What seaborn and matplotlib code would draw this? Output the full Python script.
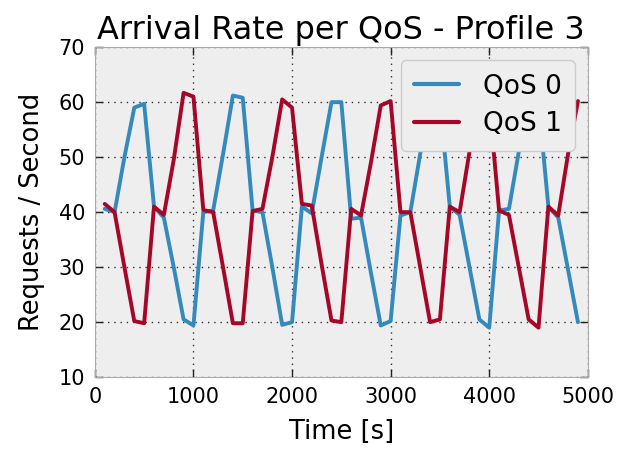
import matplotlib
matplotlib.use('Agg')
import matplotlib.pyplot as plt
import pandas as pd
import seaborn as sns

# Time axis (s) and arrival rates
time_s = list(range(100, 5000, 100))

qos0 = [40.6, 40.0, 50.0, 59.0, 59.7, 41.0, 39.0, 30.0, 20.5, 19.4,
        40.0, 40.3, 50.5, 61.2, 60.8, 40.3, 40.0, 30.0, 19.5, 20.0,
        41.0, 39.8, 50.0, 60.0, 60.0, 38.8, 39.0, 29.0, 19.4, 20.2,
        39.4, 40.0, 50.6, 60.0, 60.0, 41.0, 39.5, 30.0, 20.5, 19.0,
        40.3, 40.6, 51.0, 60.0, 60.0, 41.0, 39.0, 29.5, 20.0]

qos1 = [41.5, 40.0, 30.0, 20.2, 19.8, 41.0, 39.5, 49.5, 61.7, 61.0,
        40.4, 40.0, 30.0, 19.8, 19.8, 40.2, 40.6, 50.0, 60.5, 59.0,
        41.5, 41.2, 30.5, 20.3, 20.0, 40.6, 39.4, 49.0, 59.4, 60.2,
        40.0, 40.0, 30.0, 20.0, 20.5, 41.0, 40.0, 51.0, 60.0, 60.0,
        40.3, 39.5, 30.0, 20.5, 19.0, 41.0, 39.4, 50.6, 60.2]

series_names = ['QoS 0', 'QoS 1']
colors = ['#348ABD', '#A60628']

df = pd.concat([
    pd.DataFrame({'Time': time_s, 'Rate': qos0, 'QoS': series_names[0]}),
    pd.DataFrame({'Time': time_s, 'Rate': qos1, 'QoS': series_names[1]}),
])

sns.set_style('whitegrid', {
    'axes.facecolor': '#EEEEEE',
    'axes.edgecolor': '#AAAAAA',
    'xtick.direction': 'in',
    'ytick.direction': 'in',
    'text.color': 'black',
    'axes.labelcolor': 'black',
    'xtick.color': 'black',
    'ytick.color': 'black',
})
plt.rcParams['font.family'] = ['DejaVu Sans']

fig, ax = plt.subplots(figsize=(6.24, 4.49), dpi=100)
fig.subplots_adjust(left=0.152, right=0.942, top=0.895, bottom=0.160)

sns.lineplot(data=df, x='Time', y='Rate', hue='QoS', palette=colors,
             linewidth=2.8, ax=ax)

ax.set_xlim(0, 5000)
ax.set_ylim(10, 70)
ax.set_xticks([0, 1000, 2000, 3000, 4000, 5000])
ax.set_yticks([10, 20, 30, 40, 50, 60, 70])
ax.grid(True, color='#333333', linestyle=(0, (1, 3.5)), linewidth=1.0)
ax.tick_params(axis='both', which='major', labelsize=15, direction='in',
               length=6, width=1, color='#222222', top=True, right=True,
               bottom=True, left=True, pad=7)
for s in ax.spines.values():
    s.set_visible(True)
    s.set_color('#AAAAAA')

ax.set_title('Arrival Rate per QoS - Profile 3', fontsize=23)
ax.set_xlabel('Time [s]', fontsize=18.5, labelpad=9)
ax.set_ylabel('Requests / Second', fontsize=18.5, labelpad=10)

leg = ax.legend(loc='upper right', fontsize=19, handlelength=1.7,
                handletextpad=0.9, frameon=True, fancybox=True,
                borderpad=0.5, labelspacing=0.45)
leg.get_frame().set_facecolor('#EEEEEE')
leg.get_frame().set_edgecolor('#CCCCCC')
leg.get_frame().set_alpha(1)
for line in leg.get_lines():
    line.set_linewidth(3)

fig.savefig('out.png', dpi=100)
